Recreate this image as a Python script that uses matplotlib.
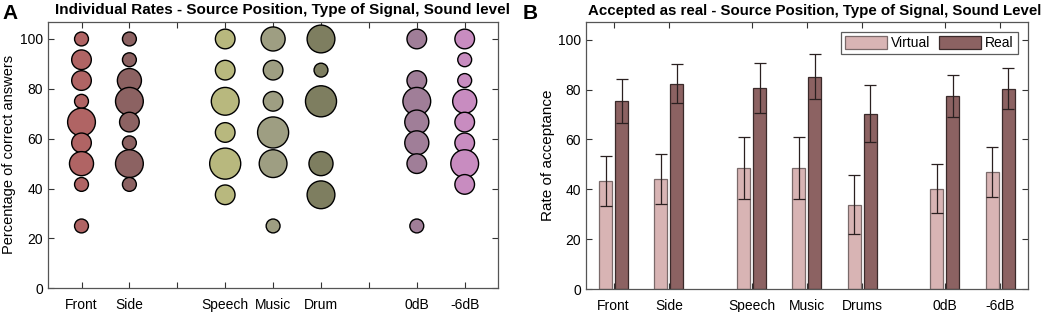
import numpy as np
import matplotlib.pyplot as plt

plt.rcParams['font.family'] = ['Liberation Sans', 'DejaVu Sans']

# ---- Panel A: individual rates (bubble = number of participants) ----
a_labels = ['Front', 'Side', 'Speech', 'Music', 'Drum', '0dB', '-6dB']
a_pos = [1, 2, 4, 5, 6, 8, 9]
a_colors = ['#b06464', '#8c6262', '#b8b87e', '#9e9e82', '#7e7e60', '#a07e98', '#c88cc0']

tw = [100, 91.67, 83.33, 75, 66.67, 58.33, 50, 41.67, 25]
ei = [100, 87.5, 75, 62.5, 50, 37.5, 25]
a_y = [
    tw,
    tw[:-1],
    ei[:-1],
    ei[:4] + [50, 25],
    [100, 87.5, 75, 50, 37.5],
    [100, 83.33, 75, 66.67, 58.33, 50, 25],
    tw[:-1],
]
a_counts = [
    [1, 2, 2, 1, 4, 2, 3, 1, 1],
    [1, 1, 3, 4, 2, 1, 4, 1],
    [2, 2, 4, 2, 5, 2],
    [3, 2, 2, 5, 4, 1],
    [4, 1, 5, 3, 4],
    [2, 2, 4, 3, 3, 2, 1],
    [2, 1, 1, 3, 2, 2, 4, 2],
]

# ---- Panel B: acceptance rates ----
b_labels = ['Front', 'Side', 'Speech', 'Music', 'Drums', '0dB', '-6dB']
b_pos = [1, 2, 3.5, 4.5, 5.5, 7, 8]
virtual = [43.3, 44.1, 48.5, 48.5, 33.9, 40.3, 47.1]
virtual_err = [10.0, 10.0, 12.5, 12.5, 11.7, 9.8, 10.0]
real = [75.5, 82.3, 80.8, 85.2, 70.4, 77.5, 80.4]
real_err = [8.8, 7.8, 10.0, 9.0, 11.3, 8.5, 8.2]

fig = plt.figure(figsize=(10.52, 3.12), dpi=100)

def style(ax):
    ax.tick_params(direction='in', top=True, right=True, length=4,
                   labelsize=10, color='#333333')
    ax.tick_params(axis='x', pad=7)
    for s in ax.spines.values():
        s.set_color('#555555')
        s.set_linewidth(0.9)

# Panel A
ax1 = fig.add_axes([0.0456, 0.076, 0.428, 0.855])
for x, ys, cs, col in zip(a_pos, a_y, a_counts, a_colors):
    ax1.scatter([x] * len(ys), ys, s=np.array(cs) * 100, color=col,
                edgecolor='black', linewidth=1, zorder=3)
ax1.set_xlim(0.3, 9.7)
ax1.set_ylim(0, 107)
ax1.set_xticks(range(1, 10))
ax1.set_xticklabels(['Front', 'Side', '', 'Speech', 'Music', 'Drum', '', '0dB', '-6dB'])
ax1.set_yticks(range(0, 101, 20))
ax1.set_ylabel('Percentage of correct answers', fontsize=10.5, labelpad=3)
ax1.text(0.52, 1.017, 'Individual Rates - Source Position, Type of Signal, Sound level',
         transform=ax1.transAxes, ha='center', va='bottom',
         fontsize=11, fontweight='bold')
style(ax1)
fig.text(0.002, 0.94, 'A', fontsize=15, fontweight='bold')

# Panel B
ax2 = fig.add_axes([0.557, 0.073, 0.420, 0.856])
w = 0.235
off = 0.145
bp = np.array(b_pos)
ax2.bar(bp - off, virtual, w, color='#d8b4b4', edgecolor='#7a6a6a', linewidth=0.9,
        label='Virtual', zorder=2)
ax2.bar(bp + off, real, w, color='#8c6262', edgecolor='#3a2a2a', linewidth=0.9,
        label='Real', zorder=2)
ax2.errorbar(bp - off, virtual, yerr=virtual_err, fmt='none', ecolor='#2a2020',
             elinewidth=0.9, capsize=4, capthick=0.9, zorder=3)
ax2.errorbar(bp + off, real, yerr=real_err, fmt='none', ecolor='#2a2020',
             elinewidth=0.9, capsize=4, capthick=0.9, zorder=3)
ax2.set_xlim(0.5, 8.5)
ax2.set_ylim(0, 107)
ax2.set_xticks(b_pos)
ax2.set_xticklabels(b_labels)
ax2.set_yticks(range(0, 101, 20))
ax2.set_ylabel('Rate of acceptance', fontsize=11, labelpad=2)
ax2.text(0.004, 1.017, 'Accepted as real - Source Position, Type of Signal, Sound Level',
         transform=ax2.transAxes, ha='left', va='bottom',
         fontsize=10.8, fontweight='bold')
style(ax2)
leg = ax2.legend(loc='upper right', ncol=2, fontsize=10, frameon=True, fancybox=False,
                 edgecolor='#333333', handlelength=3.0, handleheight=1.0,
                 columnspacing=0.6, handletextpad=0.3, borderpad=0.3,
                 borderaxespad=0, bbox_to_anchor=(0.977, 0.963))
leg.get_frame().set_linewidth(0.9)
fig.text(0.497, 0.94, 'B', fontsize=15, fontweight='bold')

fig.savefig('out.png', dpi=100)
